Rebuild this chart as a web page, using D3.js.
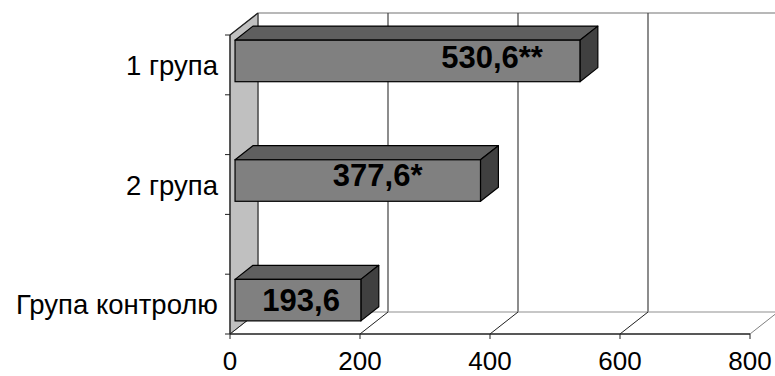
<!DOCTYPE html>
<html>
<head>
<meta charset="utf-8">
<script src="https://cdn.jsdelivr.net/npm/d3@7/dist/d3.min.js"></script>
<style>
  html, body { margin: 0; padding: 0; background: #fff; }
  svg { display: block; font-family: "Liberation Sans", Arial, sans-serif; }
</style>
</head>
<body>
<svg id="chart" width="775" height="376"></svg>
<script>
// Data
const categories = ["1 група", "2 група", "Група контролю"];
const values = [530.6, 377.6, 193.6];
const valueLabels = ["530,6**", "377,6*", "193,6"];
const xTicks = [0, 200, 400, 600, 800];

// Layout
const W = 775, H = 376;
const x0 = 230, x1 = 750;         // front plane value axis
const yTop = 35, yBot = 334;      // front plane category axis
const DX = 28, DY = -22;          // full depth offset of the 3D box
const barFront = 0.18, barBack = 0.82; // bar depth as fraction of the box depth
const labelInset = [37, 58, 21];  // distance of label's right edge from bar end
const labelLift = [4, 6, 0];

const svg = d3.select("#chart");

const x = d3.scaleLinear().domain([0, 800]).range([x0, x1]);
const y = d3.scaleBand().domain(categories).range([yTop, yBot])
  .paddingInner(0.653).paddingOuter(0.0765);
const tickScale = d3.scaleLinear().domain([0, 5]).range([yTop, yBot]);

const line = d3.line();

// Left wall
svg.append("path")
  .attr("d", line([[x0, yTop], [x0 + DX, yTop + DY], [x0 + DX, yBot + DY], [x0, yBot]]) + "Z")
  .attr("fill", "#c0c0c0").attr("stroke", "#808080").attr("stroke-width", 1);

// Back wall top edge
svg.append("line")
  .attr("x1", x0 + DX).attr("x2", W + 10)
  .attr("y1", yTop + DY).attr("y2", yTop + DY)
  .attr("stroke", "#a0a0a0").attr("stroke-width", 1.5);

// Back wall gridlines
svg.selectAll(".grid").data(xTicks).join("line")
  .attr("x1", d => x(d) + DX).attr("x2", d => x(d) + DX)
  .attr("y1", yTop + DY).attr("y2", yBot + DY)
  .attr("stroke", "#404040").attr("stroke-width", 1.2);

// Floor: back edge, diagonals and front axis line
svg.append("line")
  .attr("x1", x0 + DX).attr("x2", x1 + DX)
  .attr("y1", yBot + DY).attr("y2", yBot + DY)
  .attr("stroke", "#909090").attr("stroke-width", 1.2);
svg.selectAll(".floor").data(xTicks).join("line")
  .attr("x1", d => x(d)).attr("x2", d => x(d) + DX)
  .attr("y1", yBot).attr("y2", yBot + DY)
  .attr("stroke", d => d === 800 ? "#808080" : "#202020").attr("stroke-width", 1);
svg.append("line")
  .attr("x1", x0).attr("x2", x1)
  .attr("y1", yBot).attr("y2", yBot)
  .attr("stroke", "#202020").attr("stroke-width", 1.3);

// Value axis ticks and labels
svg.selectAll(".xt").data(xTicks).join("line")
  .attr("x1", d => x(d)).attr("x2", d => x(d))
  .attr("y1", yBot).attr("y2", yBot + 5)
  .attr("stroke", "#202020");
svg.selectAll(".xl").data(xTicks).join("text")
  .attr("x", d => x(d)).attr("y", 370)
  .attr("text-anchor", "middle")
  .attr("font-size", 26).attr("fill", "#000")
  .text(d => d);

// Category axis line, ticks, labels
svg.append("line")
  .attr("x1", x0).attr("x2", x0).attr("y1", yTop).attr("y2", yBot)
  .attr("stroke", "#202020").attr("stroke-width", 1.3);
svg.append("line")
  .attr("x1", x0).attr("x2", x0 + DX).attr("y1", yTop).attr("y2", yTop + DY)
  .attr("stroke", "#202020").attr("stroke-width", 1.3);
svg.selectAll(".yt").data(d3.range(6)).join("line")
  .attr("x1", x0 - 5).attr("x2", x0)
  .attr("y1", d => tickScale(d)).attr("y2", d => tickScale(d))
  .attr("stroke", "#202020");
svg.selectAll(".yl").data(categories).join("text")
  .attr("x", 218)
  .attr("y", d => y(d) + y.bandwidth() / 2 + 10)
  .attr("text-anchor", "end")
  .attr("font-size", 27.5).attr("fill", "#000")
  .text(d => d);

// 3D bars
const fdx = DX * barFront, fdy = DY * barFront;
const bdx = DX * (barBack - barFront), bdy = DY * (barBack - barFront);
const bars = svg.selectAll(".bar").data(values.map((v, i) => ({ v, i, c: categories[i] })))
  .join("g");
bars.each(function (d) {
  const g = d3.select(this);
  const l = x(0) + fdx, r = x(d.v) + fdx;
  const t = y(d.c) + fdy, b = t + y.bandwidth();
  // top face
  g.append("path")
    .attr("d", line([[l, t], [l + bdx, t + bdy], [r + bdx, t + bdy], [r, t]]) + "Z")
    .attr("fill", "#5f5f5f").attr("stroke", "#000").attr("stroke-width", 1.2).attr("stroke-linejoin", "round");
  // end face
  g.append("path")
    .attr("d", line([[r, t], [r + bdx, t + bdy], [r + bdx, b + bdy], [r, b]]) + "Z")
    .attr("fill", "#404040").attr("stroke", "#000").attr("stroke-width", 1.2).attr("stroke-linejoin", "round");
  // front face
  g.append("rect")
    .attr("x", l).attr("y", t).attr("width", r - l).attr("height", b - t)
    .attr("fill", "#808080").attr("stroke", "#000").attr("stroke-width", 1.2);
  // value label
  g.append("text")
    .attr("x", r - labelInset[d.i])
    .attr("y", (t + b) / 2 + 11 - labelLift[d.i])
    .attr("text-anchor", "end")
    .attr("font-size", 31).attr("font-weight", "bold").attr("fill", "#000")
    .text(valueLabels[d.i]);
});
</script>
</body>
</html>
